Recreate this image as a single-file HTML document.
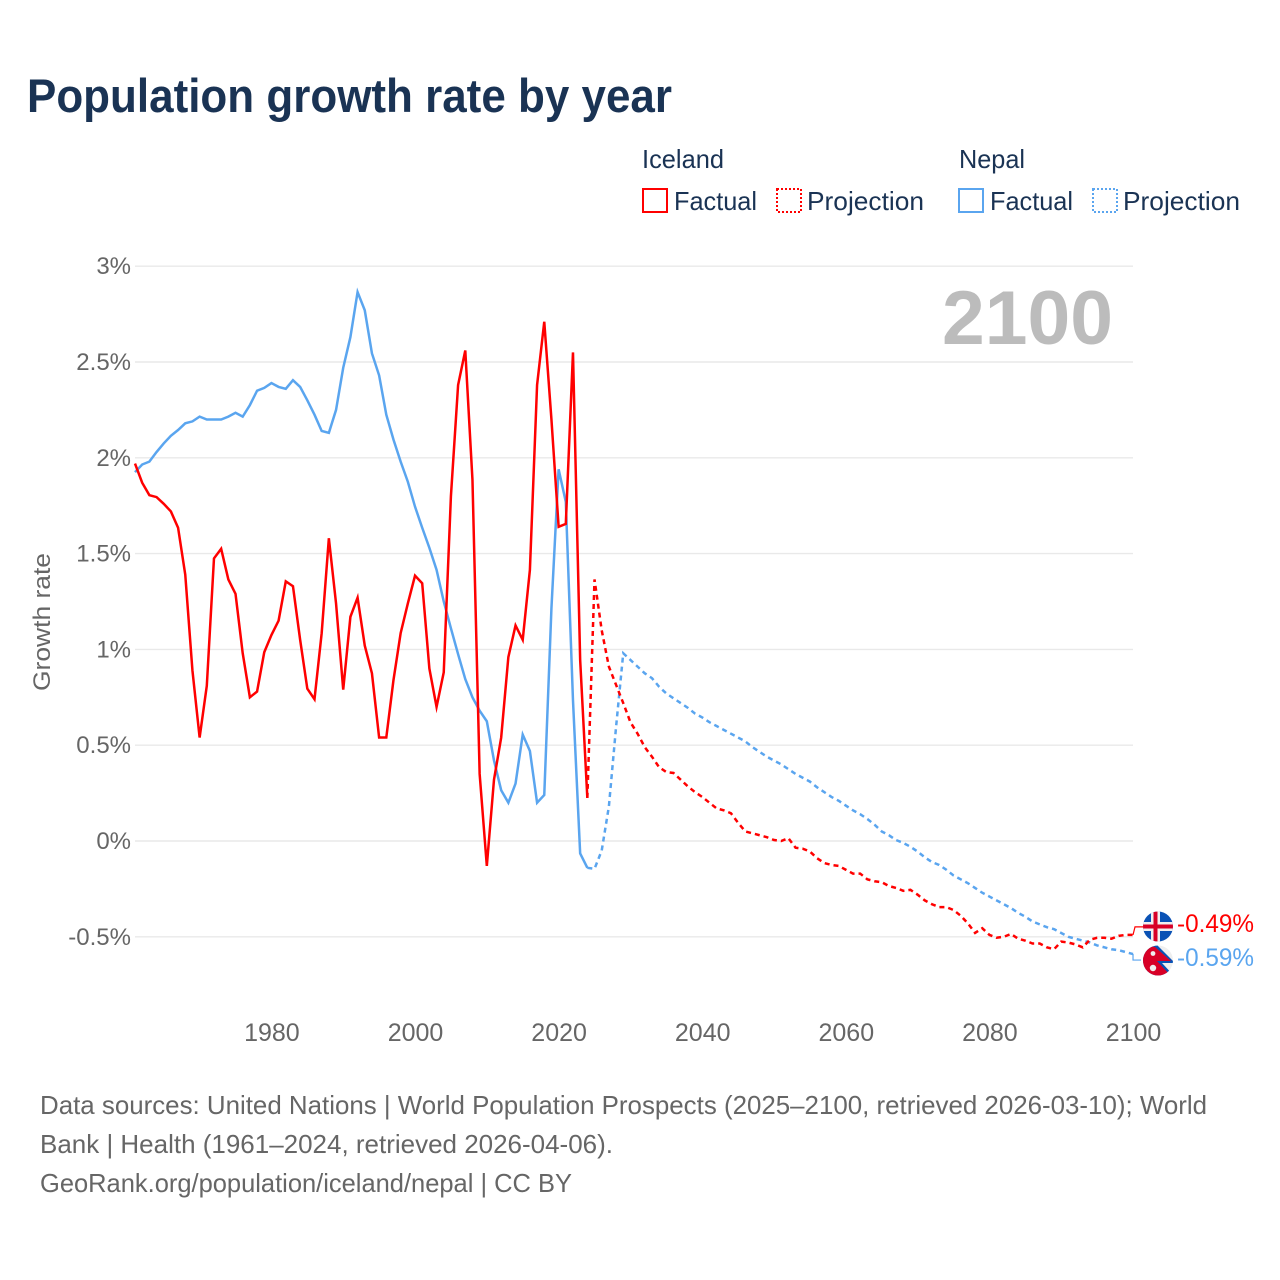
<!DOCTYPE html>
<html lang="en">
<head>
<meta charset="utf-8">
<title>Population growth rate by year</title>
<style>
html,body{margin:0;padding:0;background:#fff;width:1280px;height:1280px;overflow:hidden}
svg{display:block}
text{font-family:"Liberation Sans",sans-serif}
</style>
</head>
<body>
<svg id="chart" xmlns="http://www.w3.org/2000/svg" width="1280" height="1280" viewBox="0 0 1280 1280">
  <defs>
    <clipPath id="flag-clip-is"><circle cx="1158" cy="926.5" r="15"/></clipPath>
    <clipPath id="flag-clip-np"><circle cx="1158" cy="960.5" r="15"/></clipPath>
  </defs>
  <rect width="1280" height="1280" fill="#fff"/>
  <text x="27" y="112" font-size="47" font-weight="700" fill="#1a3354" textLength="645" lengthAdjust="spacingAndGlyphs">Population growth rate by year</text>

  <g font-size="26" fill="#1a3354">
    <text x="642" y="168" textLength="82" lengthAdjust="spacingAndGlyphs">Iceland</text>
    <rect x="643" y="189" width="24" height="23" fill="none" stroke="#ff0000" stroke-width="2"/>
    <text x="674" y="210" textLength="83" lengthAdjust="spacingAndGlyphs">Factual</text>
    <rect x="777" y="189" width="24" height="23" fill="none" stroke="#ff0000" stroke-width="2" stroke-dasharray="2,2"/>
    <text x="807" y="210" textLength="117" lengthAdjust="spacingAndGlyphs">Projection</text>
    <text x="959" y="168" textLength="66" lengthAdjust="spacingAndGlyphs">Nepal</text>
    <rect x="959" y="189" width="24" height="23" fill="none" stroke="#5aa5ef" stroke-width="2"/>
    <text x="990" y="210" textLength="83" lengthAdjust="spacingAndGlyphs">Factual</text>
    <rect x="1093" y="189" width="24" height="23" fill="none" stroke="#5aa5ef" stroke-width="2" stroke-dasharray="2,2"/>
    <text x="1123" y="210" textLength="117" lengthAdjust="spacingAndGlyphs">Projection</text>
  </g>

  <g id="grid"></g>
  <g id="y-ticks"></g>
  <g id="x-ticks"></g>
  <text transform="translate(50,622) rotate(-90)" text-anchor="middle" font-size="24" fill="#666" textLength="138" lengthAdjust="spacingAndGlyphs">Growth rate</text>
  <text x="942" y="344" font-size="76" font-weight="700" fill="#bcbcbc" textLength="171" lengthAdjust="spacingAndGlyphs">2100</text>

  <g id="series"></g>

  <g clip-path="url(#flag-clip-is)">
    <rect x="1143" y="911" width="30" height="31" fill="#0a52b5"/>
    <rect x="1143" y="922" width="30" height="9" fill="#f0f0f0"/>
    <rect x="1151" y="911" width="9" height="31" fill="#f0f0f0"/>
    <rect x="1143" y="924.5" width="30" height="4" fill="#d80027"/>
    <rect x="1153.5" y="911" width="4" height="31" fill="#d80027"/>
  </g>
  <g clip-path="url(#flag-clip-np)">
    <rect x="1143" y="945" width="30" height="31" fill="#efefef"/>
    <polygon points="1143,945 1157,945 1175,963 1162,963 1175,977 1143,977" fill="#0a52b5"/>
    <polygon points="1143,945 1155,947 1171,961 1157,961 1171,976 1143,977" fill="#d80027"/>
    <circle cx="1153" cy="953.5" r="2.4" fill="#efefef"/>
    <circle cx="1153" cy="968" r="3.2" fill="#efefef"/>
  </g>
  <g id="end-labels"></g>

  <g font-size="26" fill="#666">
    <text x="40" y="1114" textLength="1167" lengthAdjust="spacingAndGlyphs">Data sources: United Nations | World Population Prospects (2025–2100, retrieved 2026-03-10); World</text>
    <text x="40" y="1153" textLength="573" lengthAdjust="spacingAndGlyphs">Bank | Health (1961–2024, retrieved 2026-04-06).</text>
    <text x="40" y="1192" textLength="532" lengthAdjust="spacingAndGlyphs">GeoRank.org/population/iceland/nepal | CC BY</text>
  </g>
</svg>
<script>
const yTickValues = [-0.5, 0, 0.5, 1, 1.5, 2, 2.5, 3];
const yTickLabels = ['-0.5%', '0%', '0.5%', '1%', '1.5%', '2%', '2.5%', '3%'];
const xTickYears = [1980, 2000, 2020, 2040, 2060, 2080, 2100];
const factualStartYear = 1961;
const projectionStartYear = 2024;

const icelandFactual = [1.97,1.87,1.805,1.795,1.76,1.72,1.635,1.39,0.89,0.54,0.81,1.475,1.525,1.365,1.29,0.98,0.75,0.78,0.985,1.075,1.15,1.355,1.33,1.05,0.795,0.74,1.085,1.58,1.24,0.79,1.17,1.27,1.02,0.875,0.54,0.54,0.84,1.085,1.24,1.385,1.345,0.9,0.7,0.88,1.8,2.38,2.56,1.885,0.35,-0.13,0.32,0.54,0.96,1.125,1.05,1.415,2.38,2.71,2.2,1.64,1.655,2.55,0.945,0.225];
const icelandProjection = [0.225,1.365,1.1,0.91,0.815,0.72,0.62,0.56,0.49,0.44,0.385,0.36,0.355,0.32,0.285,0.255,0.23,0.2,0.17,0.16,0.145,0.095,0.05,0.04,0.03,0.02,0.005,0,0.015,-0.035,-0.04,-0.055,-0.09,-0.115,-0.125,-0.13,-0.15,-0.17,-0.17,-0.2,-0.21,-0.215,-0.235,-0.245,-0.26,-0.255,-0.28,-0.31,-0.33,-0.345,-0.345,-0.36,-0.39,-0.43,-0.48,-0.455,-0.49,-0.505,-0.5,-0.485,-0.51,-0.52,-0.535,-0.535,-0.555,-0.565,-0.525,-0.53,-0.54,-0.555,-0.515,-0.505,-0.505,-0.51,-0.495,-0.49,-0.49];
const nepalFactual = [1.925,1.965,1.98,2.03,2.075,2.115,2.145,2.18,2.19,2.215,2.2,2.2,2.2,2.215,2.235,2.215,2.275,2.35,2.365,2.39,2.37,2.36,2.405,2.37,2.3,2.225,2.14,2.13,2.25,2.47,2.63,2.865,2.77,2.545,2.43,2.225,2.095,1.98,1.875,1.745,1.635,1.53,1.415,1.25,1.11,0.975,0.845,0.75,0.68,0.625,0.42,0.265,0.2,0.3,0.555,0.47,0.2,0.24,1.215,1.94,1.77,0.735,-0.065,-0.14];
const nepalProjection = [-0.14,-0.145,-0.05,0.18,0.595,0.98,0.945,0.91,0.875,0.85,0.805,0.77,0.745,0.72,0.695,0.665,0.645,0.62,0.6,0.58,0.56,0.54,0.52,0.49,0.465,0.44,0.42,0.4,0.375,0.35,0.33,0.31,0.28,0.255,0.23,0.21,0.185,0.16,0.14,0.115,0.085,0.05,0.03,0.005,-0.01,-0.03,-0.055,-0.085,-0.11,-0.125,-0.15,-0.18,-0.2,-0.22,-0.245,-0.27,-0.29,-0.31,-0.33,-0.35,-0.375,-0.395,-0.42,-0.435,-0.45,-0.46,-0.48,-0.5,-0.51,-0.52,-0.53,-0.545,-0.555,-0.565,-0.57,-0.58,-0.59];
const endLabels = ['-0.49%', '-0.59%'];

const NS = 'http://www.w3.org/2000/svg';
const RED = '#ff0000';
const BLUE = '#5aa5ef';
function xScale(year) { return 135 + (year - 1961) * 7.18; }
function yScale(value) { return 841 - value * 191.6; }
function make(tag, attrs, parent) {
  const el = document.createElementNS(NS, tag);
  Object.keys(attrs).forEach(function (k) { el.setAttribute(k, attrs[k]); });
  parent.appendChild(el);
  return el;
}
function pointsFor(values, startYear) {
  return values.map(function (v, i) { return xScale(startYear + i).toFixed(2) + ',' + yScale(v).toFixed(2); }).join(' ');
}

const gridGroup = document.getElementById('grid');
const yTickGroup = document.getElementById('y-ticks');
yTickValues.forEach(function (v, i) {
  const line = make('line', { x1: 135, x2: 1133, y1: yScale(v), y2: yScale(v), stroke: '#e9e9e9', 'stroke-width': 1.4 }, gridGroup);
  
  
  const label = make('text', { x: 131, y: yScale(v) + 8, 'text-anchor': 'end', 'font-size': 24, fill: '#666' }, yTickGroup);
  
  
  label.textContent = yTickLabels[i];
});

const xTickGroup = document.getElementById('x-ticks');
xTickYears.forEach(function (year) {
  const label = make('text', { x: xScale(year) + 0.5, y: 1041, 'text-anchor': 'middle', 'font-size': 25, fill: '#666' }, xTickGroup);
  
  
  label.textContent = String(year);
});

const seriesGroup = document.getElementById('series');
const lineBase = { fill: 'none', 'stroke-width': 2.5, 'stroke-linejoin': 'miter', 'stroke-miterlimit': 6 };
function drawLine(values, startYear, color, dashed) {
  const attrs = Object.assign({}, lineBase, { points: pointsFor(values, startYear), stroke: color });
  if (dashed) { attrs['stroke-dasharray'] = '5,4'; }
  return make('polyline', attrs, seriesGroup);
}
const nepalFactualLine = drawLine(nepalFactual, factualStartYear, BLUE, false);


const nepalProjectionLine = drawLine(nepalProjection, projectionStartYear, BLUE, true);


const icelandFactualLine = drawLine(icelandFactual, factualStartYear, RED, false);


const icelandProjectionLine = drawLine(icelandProjection, projectionStartYear, RED, true);



const icelandEndY = yScale(icelandProjection[icelandProjection.length - 1]);
const nepalEndY = yScale(nepalProjection[nepalProjection.length - 1]);
const endX = xScale(2100);
const icelandConnector = make('path', { d: 'M' + endX + ' ' + icelandEndY + ' L' + (endX + 2) + ' ' + (icelandEndY - 8) + ' H' + (endX + 10), fill: 'none', stroke: RED, 'stroke-width': 1.2 }, seriesGroup);


const nepalConnector = make('path', { d: 'M' + endX + ' ' + nepalEndY + ' V' + (nepalEndY + 6) + ' H' + (endX + 8), fill: 'none', stroke: BLUE, 'stroke-width': 1.2 }, seriesGroup);



const endLabelGroup = document.getElementById('end-labels');
const icelandEndLabel = make('text', { x: 1177, y: 932, 'font-size': 25, fill: RED, textLength: 77, lengthAdjust: 'spacingAndGlyphs' }, endLabelGroup);


icelandEndLabel.textContent = endLabels[0];
const nepalEndLabel = make('text', { x: 1177, y: 966, 'font-size': 25, fill: BLUE, textLength: 77, lengthAdjust: 'spacingAndGlyphs' }, endLabelGroup);


nepalEndLabel.textContent = endLabels[1];
</script>
</body>
</html>
